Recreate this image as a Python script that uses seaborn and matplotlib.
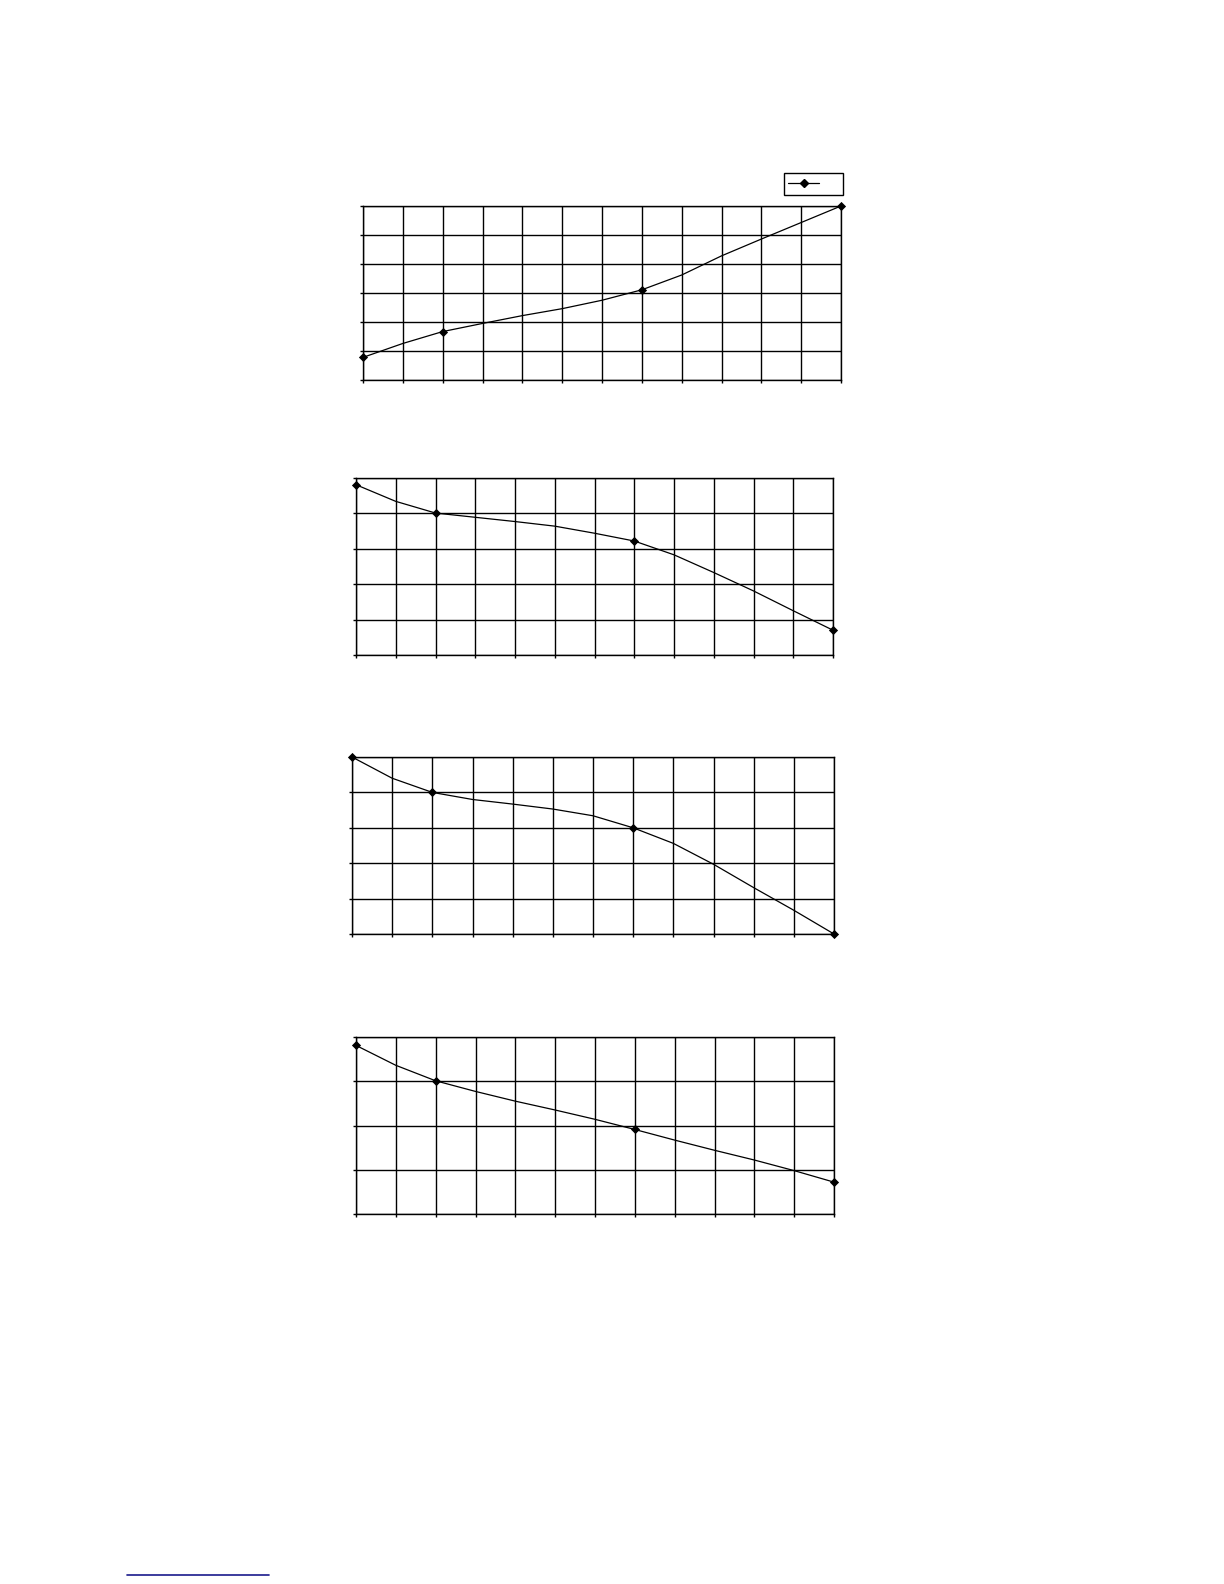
import numpy as np
import pandas as pd
import matplotlib
matplotlib.use("Agg")
import matplotlib.pyplot as plt
from matplotlib.lines import Line2D
import seaborn as sns

# grid positions along x (12 intervals), curve read at each one
x_grid = list(range(13))
marker_x = [0, 2, 7, 12]

curve_1 = [0.78, 1.26, 1.67, 1.95, 2.22, 2.46, 2.75, 3.11, 3.62, 4.28, 4.86, 5.43, 6.0]
curve_2 = [4.81, 4.34, 4.01, 3.89, 3.77, 3.64, 3.44, 3.22, 2.83, 2.33, 1.81, 1.25, 0.70]
curve_3 = [5.0, 4.40, 4.0, 3.80, 3.67, 3.53, 3.34, 3.0, 2.56, 1.97, 1.31, 0.67, 0.0]
curve_4 = [3.81, 3.36, 3.01, 2.77, 2.55, 2.35, 2.14, 1.91, 1.67, 1.44, 1.22, 0.98, 0.72]

markers_1 = [0.78, 1.67, 3.11, 6.0]
markers_2 = [4.81, 4.01, 3.22, 0.70]
markers_3 = [5.0, 4.0, 3.0, 0.0]
markers_4 = [3.81, 3.01, 1.91, 0.72]

y_max = [6, 5, 5, 4]

sns.set_style("white")
W, H = 1224, 1584
fig = plt.figure(figsize=(W / 100, H / 100), dpi=100)

# axes boxes in pixels: left, right, top, bottom
boxes = [(363, 841, 206, 380),
         (356, 833, 478, 655),
         (352, 834, 757, 934),
         (356, 834, 1037, 1214)]

curves = [curve_1, curve_2, curve_3, curve_4]
marks = [markers_1, markers_2, markers_3, markers_4]

axes = []
for (l, r, t, b), cv, mk, ym in zip(boxes, curves, marks, y_max):
    ax = fig.add_axes([l / W, 1 - b / H, (r - l) / W, (b - t) / H])
    df = pd.DataFrame({'x': x_grid, 'y': cv})
    dm = pd.DataFrame({'x': marker_x, 'y': mk})
    sns.lineplot(data=df, x='x', y='y', ax=ax, color='black', linewidth=0.9)
    sns.scatterplot(data=dm, x='x', y='y', ax=ax, color='black', marker='D',
                    s=22, edgecolor='black', linewidth=0, clip_on=False, zorder=5)
    ax.set_xlim(0, 12)
    ax.set_ylim(0, ym)
    ax.set_xticks(range(13))
    ax.set_yticks(range(ym + 1))
    ax.set_xticklabels([])
    ax.set_yticklabels([])
    ax.set_xlabel('')
    ax.set_ylabel('')
    ax.grid(True, color='black', linewidth=1.0)
    ax.tick_params(axis='both', direction='out', length=2.5, width=1, color='black',
                   bottom=True, left=True)
    for s in ax.spines.values():
        s.set_color('black')
        s.set_linewidth(1.0)
    axes.append(ax)

# legend box without text on the first chart
handle = Line2D([], [], color='black', linewidth=0.9, marker='D', markersize=4.5)
fig.legend(handles=[handle], labels=['  '], loc='upper right',
           bbox_to_anchor=(843 / W, 1 - 173 / H), frameon=True, fancybox=False,
           edgecolor='black', framealpha=1, handlelength=2.2, borderpad=0.3,
           fontsize=10, borderaxespad=0)

# blue underline at the bottom left
fig.add_artist(Line2D([127 / W, 269 / W], [1 - 1575 / H, 1 - 1575 / H],
                      color='#1a1a8c', linewidth=1.2, transform=fig.transFigure))

fig.savefig('out.png', dpi=100, facecolor='white')
